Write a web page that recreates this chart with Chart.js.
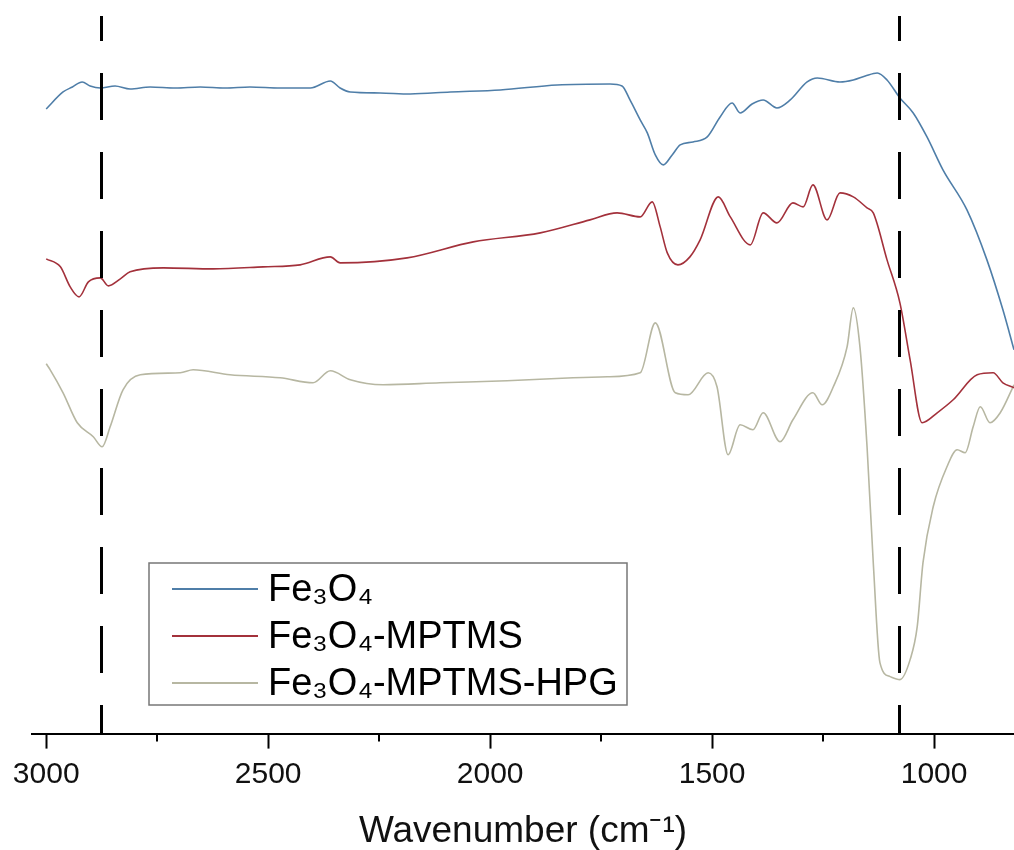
<!DOCTYPE html>
<html>
<head>
<meta charset="utf-8">
<script src="https://cdn.jsdelivr.net/npm/chart.js@4/dist/chart.umd.min.js"></script>
<style>
  html, body { margin: 0; padding: 0; background: #fff; overflow: hidden; }
  #wrap { width: 1014px; height: 850px; }
</style>
</head>
<body>
<div id="wrap"><canvas id="grafico"></canvas></div>
<script>
// espectros FTIR (numero de onda em cm-1, transmitancia em u.a.)
const feWn = [3000, 2962, 2941, 2919, 2901, 2878, 2845, 2811, 2766, 2709, 2653, 2597, 2541, 2473, 2405, 2360, 2338, 2315, 2248, 2180, 2090, 1977, 1849, 1730, 1703, 1685, 1662, 1646, 1628, 1610, 1590, 1572, 1543, 1511, 1482, 1455, 1437, 1410, 1385, 1354, 1324, 1286, 1263, 1212, 1182, 1155, 1128, 1106, 1077, 1047, 1016, 980, 926, 881, 845, 820];
const feT = [625, 642, 647, 652, 648, 646, 648, 645, 647, 646, 647, 646, 647, 646, 646, 653, 646, 642, 641, 640, 642, 644, 649, 650, 648, 634, 614, 601, 579, 569, 579, 589, 592, 597, 617, 631, 621, 630, 634, 626, 634, 652, 656, 652, 654, 658, 661, 654, 636, 621, 597, 564, 524, 474, 424, 384];

const mpWn = [3000, 2968, 2946, 2926, 2905, 2878, 2860, 2833, 2811, 2736, 2624, 2511, 2428, 2360, 2338, 2187, 2038, 1887, 1775, 1714, 1662, 1635, 1617, 1601, 1577, 1550, 1527, 1486, 1459, 1414, 1385, 1354, 1318, 1295, 1273, 1241, 1212, 1182, 1151, 1137, 1106, 1077, 1054, 1027, 993, 957, 903, 867, 845, 820];
const mpT = [475, 467, 447, 437, 452, 456, 448, 455, 462, 466, 465, 467, 469, 477, 471, 476, 492, 501, 514, 521, 517, 532, 507, 481, 469, 477, 494, 537, 517, 489, 521, 511, 531, 527, 549, 514, 541, 537, 526, 521, 474, 431, 374, 311, 321, 334, 359, 361, 351, 346];

const hpgWn = [3000, 2991, 2962, 2930, 2894, 2874, 2856, 2827, 2788, 2698, 2669, 2586, 2473, 2399, 2360, 2315, 2241, 2113, 1962, 1813, 1736, 1662, 1628, 1583, 1554, 1509, 1489, 1464, 1437, 1408, 1385, 1347, 1318, 1273, 1252, 1227, 1196, 1182, 1167, 1151, 1137, 1122, 1099, 1077, 1054, 1038, 1025, 1002, 971, 948, 930, 912, 896, 874, 851, 820];
const hpgT = [370, 364, 341, 311, 297, 287, 307, 344, 359, 361, 364, 359, 356, 351, 363, 354, 349, 351, 353, 356, 357, 361, 411, 341, 339, 361, 347, 279, 309, 304, 321, 292, 314, 341, 329, 347, 387, 426, 387, 287, 171, 71, 57, 54, 74, 107, 171, 227, 267, 284, 281, 307, 327, 311, 321, 349];

const seriesNames = ['Fe\u2083O\u2084', 'Fe\u2083O\u2084-MPTMS', 'Fe\u2083O\u2084-MPTMS-HPG'];
const seriesColors = ['#4f7ea8', '#a3313b', '#b7b7a2'];

// eixo x
const tickValues = [3000, 2750, 2500, 2250, 2000, 1750, 1500, 1250, 1000];
const tickLabels = ['3000', '', '2500', '', '2000', '', '1500', '', '1000'];
const dashedAt = [2876, 1079];

const FONTE = '"Liberation Sans", Arial, sans-serif';

function pontos(wn, t) {
    return wn.map(function (w, i) { return { x: w, y: t[i] }; });
}

// linhas tracejadas verticais + tracinhos menores do eixo
const extras = {
    id: 'extras',
    afterDatasetsDraw(chart) {
        const ctx = chart.ctx;
        const area = chart.chartArea;
        const xs = chart.scales.x;
        ctx.save();
        ctx.strokeStyle = '#000';
        ctx.lineWidth = 3;
        ctx.setLineDash([47, 32]);
        ctx.lineDashOffset = 22;
        dashedAt.forEach(function (w) {
            const px = Math.round(xs.getPixelForValue(w)) + 0.5;
            ctx.beginPath();
            ctx.moveTo(px, area.top);
            ctx.lineTo(px, area.bottom);
            ctx.stroke();
        });
        ctx.setLineDash([]);
        ctx.lineWidth = 2;
        tickValues.forEach(function (w, i) {
            if (tickLabels[i] !== '') return;
            const px = Math.round(xs.getPixelForValue(w));
            ctx.beginPath();
            ctx.moveTo(px, area.bottom);
            ctx.lineTo(px, area.bottom + 8);
            ctx.stroke();
        });
        ctx.restore();
    },
    afterDraw(chart) {
        // legenda em caixa dentro da area do grafico
        const ctx = chart.ctx;
        const x0 = 149, y0 = 563, w = 478, h = 142;
        ctx.save();
        ctx.fillStyle = '#fff';
        ctx.fillRect(x0, y0, w, h);
        ctx.strokeStyle = '#777';
        ctx.lineWidth = 1.5;
        ctx.strokeRect(x0, y0, w, h);
        ctx.font = '38px ' + FONTE;
        ctx.textBaseline = 'middle';
        chart.data.datasets.forEach(function (ds, i) {
            const cy = y0 + 26 + i * 47;
            ctx.strokeStyle = ds.borderColor;
            ctx.lineWidth = 2;
            ctx.beginPath();
            ctx.moveTo(x0 + 23, cy);
            ctx.lineTo(x0 + 109, cy);
            ctx.stroke();
            ctx.fillStyle = '#000';
            ctx.fillText(ds.label, x0 + 119, cy + 2);
        });
        ctx.restore();
    }
};

new Chart(document.getElementById('grafico'), {
    type: 'line',
    data: {
        datasets: [
            { label: seriesNames[0], data: pontos(feWn, feT), borderColor: seriesColors[0] },
            { label: seriesNames[1], data: pontos(mpWn, mpT), borderColor: seriesColors[1] },
            { label: seriesNames[2], data: pontos(hpgWn, hpgT), borderColor: seriesColors[2] }
        ]
    },
    options: {
        responsive: true,
        maintainAspectRatio: false,
        animation: false,
        layout: { padding: { left: 32, top: 16, right: 0, bottom: 0 } },
        elements: {
            point: { radius: 0 },
            line: { borderWidth: 1.6, cubicInterpolationMode: 'monotone', fill: false }
        },
        plugins: { legend: { display: false }, tooltip: { enabled: false } },
        scales: {
            x: {
                type: 'linear',
                reverse: true,
                min: 820,
                max: 3032,
                afterBuildTicks: function (scale) {
                    scale.ticks = tickValues.map(function (v) { return { value: v }; });
                },
                ticks: {
                    autoSkip: false,
                    maxRotation: 0,
                    padding: 8,
                    color: '#111',
                    font: { size: 30, family: FONTE },
                    callback: function (v, i) { return tickLabels[i]; }
                },
                grid: {
                    drawOnChartArea: false,
                    drawTicks: true,
                    tickLength: 15,
                    tickWidth: 2,
                    tickColor: function (c) { return tickLabels[c.index] === '' ? 'rgba(0,0,0,0)' : '#000'; }
                },
                border: { color: '#000', width: 2 },
                title: {
                    display: true,
                    text: 'Wavenumber (cm\u207B\u00B9)',
                    color: '#111',
                    font: { size: 37, family: FONTE },
                    padding: { top: 9, bottom: -4 }
                }
            },
            y: {
                display: false,
                min: 0,
                max: 718
            }
        }
    },
    plugins: [extras]
});
</script>
</body>
</html>
